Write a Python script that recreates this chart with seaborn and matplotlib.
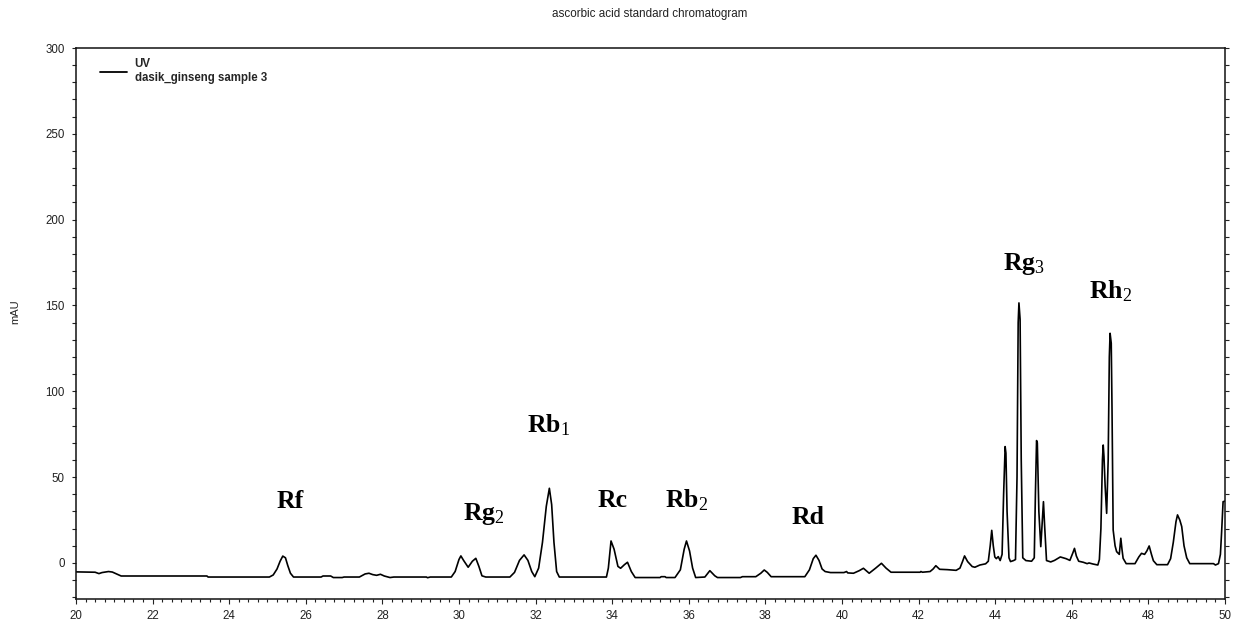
import matplotlib
matplotlib.use("Agg")
import matplotlib.pyplot as plt
from matplotlib.ticker import MultipleLocator
import seaborn as sns
import pandas as pd

# Retention time (min) of the UV trace
times = [
    20.00, 20.50, 20.60, 20.68, 20.85, 20.95, 21.10, 21.18, 23.42, 23.45,
    25.05, 25.15, 25.25, 25.33, 25.40, 25.47, 25.53, 25.60, 25.68, 26.40,
    26.45, 26.65, 26.72, 26.95, 27.00, 27.40, 27.55, 27.65, 27.75, 27.85,
    27.95, 28.05, 28.20, 28.30, 29.15, 29.18, 29.25, 29.80, 29.90, 30.00,
    30.05, 30.12, 30.24, 30.35, 30.44, 30.52, 30.60, 30.70, 31.33, 31.45,
    31.58, 31.70, 31.80, 31.90, 31.98, 32.08, 32.18, 32.28, 32.36, 32.42,
    32.48, 32.55, 32.62, 33.85, 33.90, 33.97, 34.05, 34.15, 34.22, 34.32,
    34.40, 34.50, 34.60, 35.25, 35.28, 35.38, 35.41, 35.64, 35.78, 35.88,
    35.94, 36.02, 36.10, 36.18, 36.42, 36.55, 36.68, 36.75, 37.35, 37.40,
    37.75, 37.88, 37.97, 38.05, 38.15, 39.03, 39.15, 39.25, 39.32, 39.40,
    39.48, 39.56, 39.70, 40.05, 40.12, 40.15, 40.30, 40.45, 40.56, 40.71,
    40.88, 41.03, 41.15, 41.28, 42.04, 42.06, 42.10, 42.30, 42.38, 42.45,
    42.55, 42.75, 42.98, 43.08, 43.15, 43.20, 43.28, 43.40, 43.47, 43.60,
    43.75, 43.82, 43.87, 43.91, 43.95, 43.99, 44.03, 44.08, 44.13, 44.18,
    44.22, 44.26, 44.28, 44.31, 44.36, 44.40, 44.48, 44.53, 44.57, 44.60,
    44.62, 44.65, 44.68, 44.72, 44.80, 44.95, 45.02, 45.05, 45.08, 45.10,
    45.14, 45.19, 45.23, 45.26, 45.29, 45.34, 45.45, 45.55, 45.70, 45.85,
    45.95, 46.03, 46.07, 46.12, 46.18, 46.30, 46.40, 46.45, 46.55, 46.68,
    46.72, 46.76, 46.80, 46.82, 46.84, 46.87, 46.91, 46.95, 46.98, 47.00,
    47.03, 47.05, 47.08, 47.13, 47.17, 47.24, 47.28, 47.31, 47.34, 47.42,
    47.65, 47.75, 47.82, 47.90, 47.96, 48.02, 48.08, 48.13, 48.22, 48.50,
    48.58, 48.65, 48.72, 48.76, 48.82, 48.87, 48.93, 49.00, 49.08, 49.70,
    49.75, 49.83, 49.88, 49.91, 49.95, 50.00,
]

# Detector response (mAU) at each retention time
mau = [
    -5.2, -5.4, -6.2, -5.6, -5.0, -5.3, -6.8, -7.6, -7.6, -8.2,
    -8.2, -7.0, -3.5, 1.0, 4.0, 3.0, -1.5, -6.0, -8.2, -8.2,
    -7.6, -7.6, -8.5, -8.5, -8.2, -8.2, -6.4, -6.0, -6.8, -7.2,
    -6.6, -7.6, -8.5, -8.2, -8.2, -8.6, -8.2, -8.2, -5.0, 2.0,
    4.1, 1.5, -2.5, 1.0, 2.7, -2.0, -7.5, -8.2, -8.2, -5.5,
    1.5, 4.7, 1.5, -5.0, -8.0, -3.0, 12.0, 33.0, 43.5, 34.0,
    12.0, -5.0, -8.2, -8.2, -3.0, 12.8, 8.0, -2.0, -3.1, -1.0,
    0.4, -5.0, -8.5, -8.5, -8.0, -8.0, -8.5, -8.5, -4.0, 8.0,
    12.8, 7.0, -3.0, -8.5, -8.2, -4.5, -7.5, -8.5, -8.5, -8.0,
    -8.0, -6.0, -4.1, -5.5, -8.0, -8.0, -4.0, 2.5, 4.5, 1.5,
    -3.5, -5.0, -5.6, -5.6, -5.0, -5.8, -6.0, -4.5, -3.1, -6.0,
    -3.0, -0.2, -3.0, -5.4, -5.4, -5.0, -5.4, -5.0, -3.5, -1.6,
    -3.7, -3.9, -4.3, -3.0, 1.0, 4.1, 0.8, -2.1, -2.5, -1.2,
    -0.5, 1.0, 10.0, 19.0, 10.0, 3.5, 2.5, 3.7, 1.4, 5.0,
    40.0, 67.8, 64.0, 30.0, 3.0, 0.8, 1.4, 2.0, 50.0, 140.0,
    151.5, 142.0, 60.0, 3.0, 1.4, 1.0, 3.0, 40.0, 71.3, 70.0,
    30.0, 9.5, 25.0, 35.7, 22.0, 1.4, 0.6, 1.5, 3.5, 2.5,
    1.5, 6.0, 8.5, 4.0, 1.0, 0.4, -0.4, 0.0, -0.6, -1.2,
    2.0, 20.0, 60.0, 68.7, 62.0, 45.0, 28.9, 60.0, 120.0, 133.8,
    128.0, 90.0, 19.2, 10.0, 6.6, 5.0, 14.4, 8.0, 2.7, -0.4,
    -0.4, 3.5, 5.6, 5.0, 7.0, 9.9, 5.0, 1.3, -1.0, -1.0,
    2.5, 12.0, 24.0, 28.0, 25.0, 21.2, 10.0, 3.0, -0.4, -0.4,
    -1.2, -0.4, 5.0, 17.3, 35.7, 36.0,
]

# Ginsenoside peak labels and where they sit (time, mAU)
peak_names = ["Rf", r"Rg$_{2}$", r"Rb$_{1}$", "Rc", r"Rb$_{2}$", "Rd", r"Rg$_{3}$", r"Rh$_{2}$"]
label_time = [25.59, 30.65, 32.35, 34.02, 35.95, 39.11, 44.75, 47.00]
label_mau = [32.0, 25.0, 76.3, 32.6, 32.6, 22.7, 170.7, 154.4]

x_ticks = list(range(20, 51, 2))
y_ticks = list(range(0, 301, 50))

trace = pd.DataFrame({"time": times, "mAU": mau})

sns.set_style("ticks")
plt.rcParams["font.family"] = ["Liberation Sans", "DejaVu Sans"]
plt.rcParams["mathtext.fontset"] = "custom"
plt.rcParams["mathtext.rm"] = "Liberation Serif"
plt.rcParams["mathtext.it"] = "Liberation Serif"
plt.rcParams["mathtext.bf"] = "Liberation Serif:bold"

fig = plt.figure(figsize=(12.37, 6.25), dpi=100)
ax = fig.add_axes([0.0614, 0.0416, 0.9289, 0.8816])

sns.lineplot(data=trace, x="time", y="mAU", ax=ax, color="black",
             linewidth=1.2, estimator=None, sort=False,
             label="UV\ndasik_ginseng sample 3")

ax.set_xlim(20, 50)
ax.set_ylim(-21, 300)
ax.set_xticks(x_ticks)
ax.set_yticks(y_ticks)
ax.xaxis.set_minor_locator(MultipleLocator(0.25))
ax.yaxis.set_minor_locator(MultipleLocator(10))
ax.set_xlabel("")
ax.set_ylabel("")

for side in ["left", "right", "top", "bottom"]:
    ax.spines[side].set_visible(True)
    ax.spines[side].set_color("#111111")
    ax.spines[side].set_linewidth(1.1)

ax.tick_params(axis="both", which="both", direction="out", colors="#222222",
               labelsize=8.3, width=0.8)
ax.tick_params(axis="x", which="major", length=3.6, pad=4)
ax.tick_params(axis="x", which="minor", length=2)
ax.tick_params(axis="y", which="both", length=3, pad=5, right=True, labelright=False)

leg = ax.legend(loc="upper left", bbox_to_anchor=(0.012, 1.0), frameon=False,
                handlelength=2.3, handletextpad=0.7,
                prop={"family": "Liberation Sans", "weight": "bold", "size": 8.3})
for line in leg.get_lines():
    line.set_linewidth(1.3)

for name, t, v in zip(peak_names, label_time, label_mau):
    ax.text(t, v, name, ha="center", va="baseline", fontsize=18.5,
            fontweight="bold", family="Liberation Serif", color="black")

fig.text(650 / 1237, 1 - 14 / 625, "ascorbic acid standard chromatogram",
         ha="center", va="center", fontsize=8.4, color="#222222")
fig.text(15 / 1237, 1 - 312 / 625, "mAU", ha="center", va="center",
         rotation=90, fontsize=8, color="#222222")

fig.savefig("out.png", dpi=100)
